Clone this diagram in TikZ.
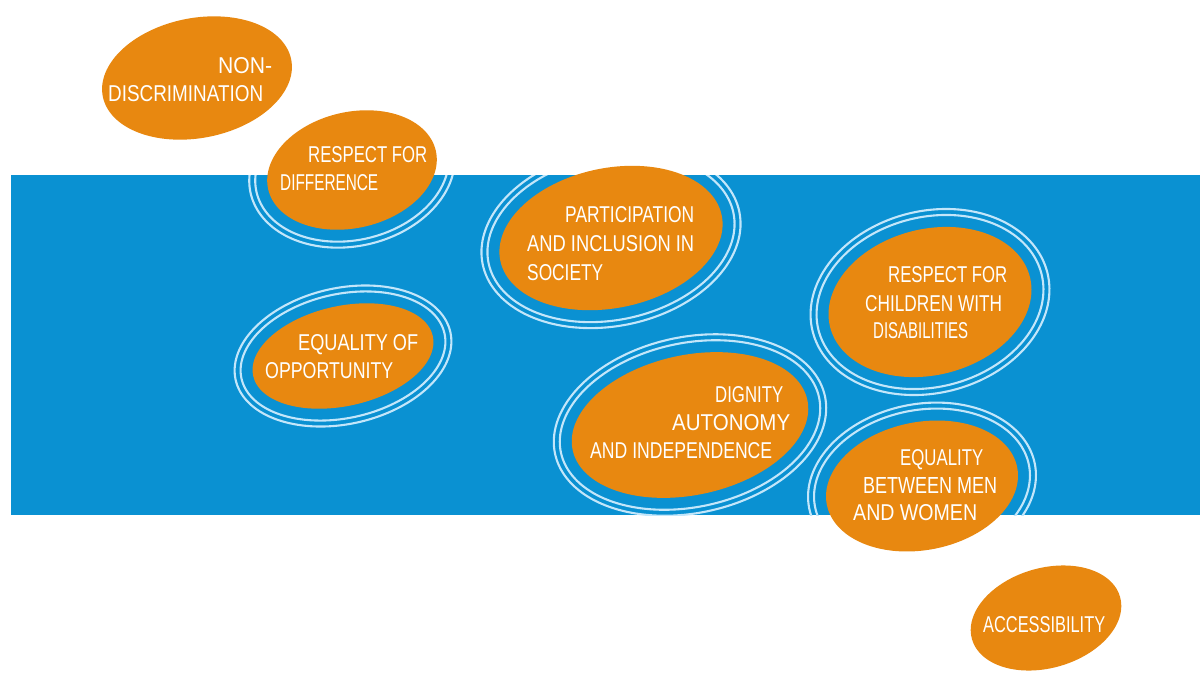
\documentclass[tikz,border=0pt]{standalone}
\usepackage{fontspec}
\setmainfont{Liberation Sans}
\usepackage{graphicx}
\definecolor{bandblue}{RGB}{10,145,210}
\definecolor{pebblec}{RGB}{232,136,16}
\definecolor{ringc}{RGB}{195,230,250}
% #1 path options, #2 cx, #3 cy, #4 a, #5 b, #6 rotation, #7 egg factor
\newcommand\pebble[7][]{\path[#1] plot[domain=0:355,samples=72,smooth cycle,variable=\t]
  ({(#2)+(#4)*cos(\t)*cos(#6)-(#5)*sin(\t)*(1+(#7)*cos(\t))*sin(#6)},
   {(#3)+(#4)*cos(\t)*sin(#6)+(#5)*sin(\t)*(1+(#7)*cos(\t))*cos(#6)});}
% rings: two outlines around a pebble
\newcommand\rings[6]{%
  \pebble[draw=ringc,line width=2.1pt]{#1}{#2}{#3+12}{#4+12}{#5}{#6}
  \pebble[draw=ringc,line width=2.1pt]{#1}{#2}{#3+18}{#4+18}{#5}{#6}}
\newcommand\capline[2]{\resizebox{#1pt}{16pt}{#2}}
\tikzset{lbl/.style={anchor=base west,inner sep=0pt,text=white}}
\begin{document}
\begin{tikzpicture}[x=1pt,y=-1pt]
\useasboundingbox (0,0) rectangle (1200,675);
\fill[white] (0,0) rectangle (1200,675);
\fill[bandblue] (11,175) rectangle (1200,515);
\begin{scope}
  \clip (11,175) rectangle (1200,515);
  \rings{352}{170}{86}{58}{-13}{0}
  \rings{611}{238}{113}{70}{-11.5}{0}
  \rings{930}{302}{103}{73}{-14}{0}
  \rings{343}{356}{92}{50}{-12.5}{0}
  \rings{690}{425}{120}{70}{-12}{0}
  \rings{922}{486}{97}{64}{-11}{0}
\end{scope}
\pebble[fill=pebblec]{197}{78}{96}{60}{-11}{0}
\pebble[fill=pebblec]{352}{170}{86}{58}{-13}{0}
\pebble[fill=pebblec]{611}{238}{113}{70}{-11.5}{0}
\pebble[fill=pebblec]{930}{302}{103}{73}{-14}{0}
\pebble[fill=pebblec]{343}{356}{92}{50}{-12.5}{0}
\pebble[fill=pebblec]{690}{425}{120}{70}{-12}{0}
\pebble[fill=pebblec]{922}{486}{97}{64}{-11}{0}
\pebble[fill=pebblec]{1046}{618}{77}{50}{-16}{0}
\node[lbl] (nd1) at (218,73) {\capline{54}{NON-}};
\node[lbl] (nd2) at (108,101) {\capline{155}{DISCRIMINATION}};
\node[lbl] (rd1) at (308,162) {\capline{119}{RESPECT FOR}};
\node[lbl] (rd2) at (280,190) {\capline{98}{DIFFERENCE}};
\node[lbl] (pi1) at (565,222) {\capline{129}{PARTICIPATION}};
\node[lbl] (pi2) at (527,251) {\capline{167}{AND INCLUSION IN}};
\node[lbl] (pi3) at (527,280) {\capline{76}{SOCIETY}};
\node[lbl] (rc1) at (888,282) {\capline{119}{RESPECT FOR}};
\node[lbl] (rc2) at (865,311) {\capline{137}{CHILDREN WITH}};
\node[lbl] (rc3) at (873,338) {\capline{95}{DISABILITIES}};
\node[lbl] (eo1) at (298,350) {\capline{120}{EQUALITY OF}};
\node[lbl] (eo2) at (265,378) {\capline{128}{OPPORTUNITY}};
\node[lbl] (da1) at (715,402) {\capline{68}{DIGNITY}};
\node[lbl] (da2) at (672,430) {\capline{118}{AUTONOMY}};
\node[lbl] (da3) at (590,458) {\capline{182}{AND INDEPENDENCE}};
\node[lbl] (em1) at (900,465) {\capline{83}{EQUALITY}};
\node[lbl] (em2) at (863,493) {\capline{134}{BETWEEN MEN}};
\node[lbl] (em3) at (853,520) {\capline{124}{AND WOMEN}};
\node[lbl] (ac1) at (983,632) {\capline{122}{ACCESSIBILITY}};
\end{tikzpicture}
\end{document}
